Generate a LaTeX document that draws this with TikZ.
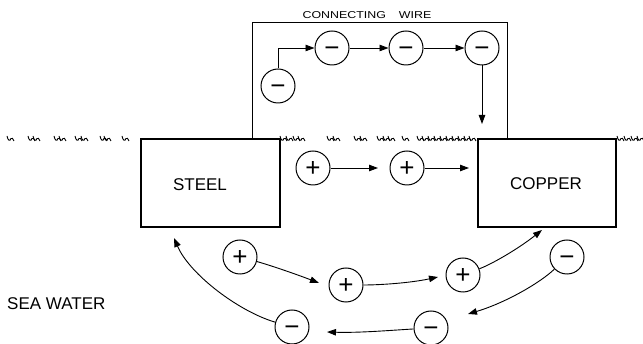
\documentclass[tikz,border=0pt]{standalone}
\usepackage{fontspec}
\setmainfont{Liberation Sans}
\usepackage{graphicx}
\usetikzlibrary{arrows.meta}
\begin{document}
\begin{tikzpicture}[x=1pt,y=-1pt,
  chg/.style={circle,draw,line width=1pt,minimum size=34pt,inner sep=0pt,
    font=\fontsize{26}{26}\selectfont,text height=17.6pt,text depth=0pt},
  metal/.style={draw,line width=1.8pt,inner sep=0pt},
  lbl/.style={font=\fontsize{17}{17}\selectfont,inner sep=0pt},
  flow/.style={line width=0.9pt,-{Triangle[length=9pt,width=6.5pt]}},
  wire/.style={line width=1pt},
  wm/.style={line width=0.9pt}]
\useasboundingbox (0,0) rectangle (643,344);

% title
\node[inner sep=0pt,font=\fontsize{10}{10}\selectfont] (title) at (367,15)
  {\scalebox{1.24}[1]{CONNECTING\hspace{10.5pt}WIRE}};

% metals
\node[metal,minimum width=139pt,minimum height=88pt] (steel) at (210.5,183) {};
\node[metal,minimum width=138pt,minimum height=88pt] (copper) at (547,183) {};
\node[lbl] (steeltxt) at (200,185) {STEEL};
\node[lbl] (coppertxt) at (546,184) {COPPER};
\node[lbl,anchor=west] (sea) at (7,304) {SEA WATER};

% connecting wire
\draw[wire] (252,138) |- (507,23) -- (507,138);

% water surface marks
\foreach \x in {10,31,36,57,62,78,84,103,107,125,
  283,289,296,301,330,336,357,363,380,386,391,405,420,425,431,437,443,449,455,461,467,472,
  620,627,634,640}
  \draw[wm] (\x-3,136) .. controls (\x-2,141) and (\x,141.5) .. (\x+1,138.5)
    .. controls (\x+2,137) and (\x+3,139) .. (\x+4,141);

% electrons in wire
\node[chg] (c0) at (278,86) {−};
\node[chg] (c1) at (332,48) {−};
\node[chg] (c2) at (406,48) {−};
\node[chg] (c3) at (482,48) {−};
\coordinate (cw) at (482,124);
\draw[flow] (c0.north) |- (c1.west);
\draw[flow] (c1.east) -- (c2.west);
\draw[flow] (c2.east) -- (c3.west);
\draw[flow] (c3.south) -- (cw);

% upper ions
\node[chg] (p1) at (313,168) {+};
\node[chg] (p2) at (407,168) {+};
\coordinate (t1) at (378,168);
\coordinate (t2) at (469,168);
\draw[flow] (p1.east) -- (t1);
\draw[flow] (p2.east) -- (t2);

% lower ions
\node[chg] (p3) at (240,257) {+};
\node[chg] (p4) at (346,285) {+};
\node[chg] (p5) at (463,275) {+};
\node[chg] (m1) at (567,257) {−};
\node[chg] (m2) at (431,328) {−};
\node[chg] (m3) at (292,327) {−};
\coordinate (t3) at (319,283);
\coordinate (t4) at (438,277);
\coordinate (t5) at (542,230);
\coordinate (t6) at (468,314);
\coordinate (t7) at (327,332);
\coordinate (t8) at (174,238);
\draw[flow] (p3) .. controls (266,264) and (293,273) .. (t3);
\draw[flow] (p4) .. controls (380,285) and (410,283) .. (t4);
\draw[flow] (p5) .. controls (492,264) and (518,249) .. (t5);
\draw[flow] (m1) .. controls (540,283) and (505,303) .. (t6);
\draw[flow] (m2) .. controls (395,330) and (360,333) .. (t7);
\draw[flow] (m3) .. controls (240,312) and (190,275) .. (t8);
\end{tikzpicture}
\end{document}
